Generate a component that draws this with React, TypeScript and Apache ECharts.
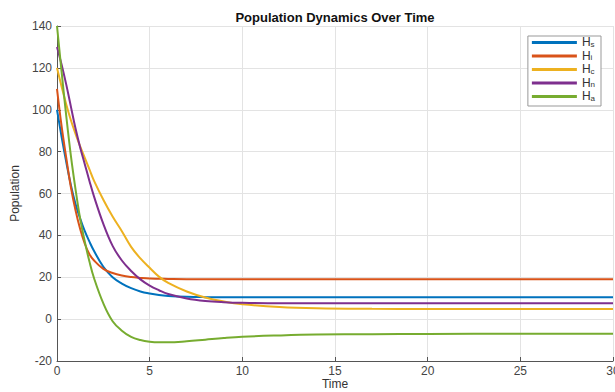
import React, { useEffect, useRef } from "react";
import * as echarts from "echarts";

const timePoints = [0, 0.25, 0.5, 0.75, 1, 1.25, 1.5, 1.75, 2, 2.5, 3, 3.5, 4, 4.5, 5, 5.5, 6, 7, 8, 9, 10, 12, 14, 17, 20, 25, 30];

const hsValues = [100, 87, 75, 64, 55, 48, 42, 37, 32.5, 25, 20, 17, 14.8, 13.2, 12.2, 11.5, 11.1, 10.7, 10.5, 10.4, 10.4, 10.4, 10.4, 10.4, 10.4, 10.4, 10.4];
const hiValues = [110, 92, 77, 63, 52, 43, 36, 31, 28, 24, 22, 20.8, 20.1, 19.7, 19.4, 19.3, 19.2, 19.1, 19.1, 19.1, 19.1, 19.1, 19.1, 19.1, 19.1, 19.1, 19.1];
const hcValues = [120, 111, 102.5, 95, 88.5, 82.5, 77, 71.5, 66, 57, 49, 42, 34.5, 29, 24.5, 20.3, 17.3, 13.2, 10.3, 8.4, 7.1, 5.8, 5.2, 4.9, 4.8, 4.8, 4.8];
const hnValues = [130, 121.5, 112, 101.5, 91, 82, 74, 66, 58.5, 45.5, 35, 28, 23, 19, 16, 13.8, 12, 9.9, 8.7, 8.1, 7.8, 7.6, 7.6, 7.6, 7.6, 7.6, 7.6];
const haValues = [140, 118, 97, 78, 62, 48, 37, 27.5, 19.5, 7.5, -1, -5.5, -8.5, -10, -10.8, -11.1, -11.1, -10.6, -9.8, -9.0, -8.4, -7.8, -7.4, -7.2, -7.1, -7.0, -7.0];

const seriesNames = ["Hs", "Hi", "Hc", "Hn", "Ha"];
const seriesColors = ["#0072BD", "#D95319", "#EDB120", "#7E2F8E", "#77AC30"];
const seriesValues = [hsValues, hiValues, hcValues, hnValues, haValues];

const FONT = "'Liberation Sans', Arial, Helvetica, sans-serif";

export default function App() {
  const ref = useRef<HTMLDivElement>(null);
  useEffect(() => {
    document.body.style.margin = "0";
    if (!ref.current) return;
    const chart = echarts.init(ref.current, null, { renderer: "svg" });
    chart.setOption({
      animation: false,
      textStyle: { fontFamily: FONT },
      graphic: [
        {
          type: "text",
          x: 335,
          y: 17,
          style: {
            text: "Population Dynamics Over Time",
            fontFamily: FONT,
            fontSize: 13,
            fontWeight: "bold",
            fill: "#111",
            align: "center",
            verticalAlign: "middle",
          },
        },
      ],
      grid: { left: 57, right: 2, top: 26, bottom: 31, containLabel: false, outerBoundsMode: "none" },
      legend: {
        orient: "vertical",
        right: 14,
        top: 36,
        icon: "rect",
        itemWidth: 45,
        itemHeight: 3,
        itemGap: 1.5,
        padding: [0, 6, 4, 4],
        borderColor: "#999",
        borderWidth: 1,
        backgroundColor: "#fff",
        data: seriesNames,
        formatter: (name: string) => `{h|H}{s|${name.slice(1)}}`,
        textStyle: {
          rich: {
            h: { fontSize: 12, color: "#333", fontFamily: FONT, lineHeight: 11, verticalAlign: "bottom" },
            s: { fontSize: 8, color: "#333", fontFamily: FONT, lineHeight: 9, padding: [4, 0, 0, 0], verticalAlign: "bottom" },
          },
        },
      },
      xAxis: {
        type: "value",
        min: 0,
        max: 30,
        interval: 5,
        name: "Time",
        nameLocation: "middle",
        nameGap: 17,
        nameMoveOverlap: false,
        nameTextStyle: { fontSize: 12, color: "#333", fontFamily: FONT },
        axisLine: { show: true, onZero: false, lineStyle: { color: "#555", width: 1 } },
        axisTick: { show: true, inside: true, length: 4, lineStyle: { color: "#555" } },
        axisLabel: { fontSize: 12, color: "#444", margin: 4, fontFamily: FONT },
        splitLine: { show: true, lineStyle: { color: "#e3e3e3", width: 1 } },
      },
      yAxis: {
        type: "value",
        min: -20,
        max: 140,
        interval: 20,
        name: "Population",
        nameLocation: "middle",
        nameGap: 36,
        nameTextStyle: { fontSize: 12, color: "#333", fontFamily: FONT },
        axisLine: { show: true, onZero: false, lineStyle: { color: "#555", width: 1 } },
        axisTick: { show: true, inside: true, length: 4, lineStyle: { color: "#555" } },
        axisLabel: { fontSize: 12, color: "#444", margin: 5, fontFamily: FONT },
        splitLine: { show: true, lineStyle: { color: "#e3e3e3", width: 1 } },
      },
      series: seriesNames.map((name, i) => ({
        name,
        type: "line",
        data: timePoints.map((t, j) => [t, seriesValues[i][j]]),
        smooth: 0.4,
        showSymbol: false,
        symbol: "none",
        lineStyle: { color: seriesColors[i], width: 2 },
        itemStyle: { color: seriesColors[i] },
      })),
    });
    return () => chart.dispose();
  }, []);
  return <div ref={ref} style={{ width: 615, height: 392 }} />;
}
